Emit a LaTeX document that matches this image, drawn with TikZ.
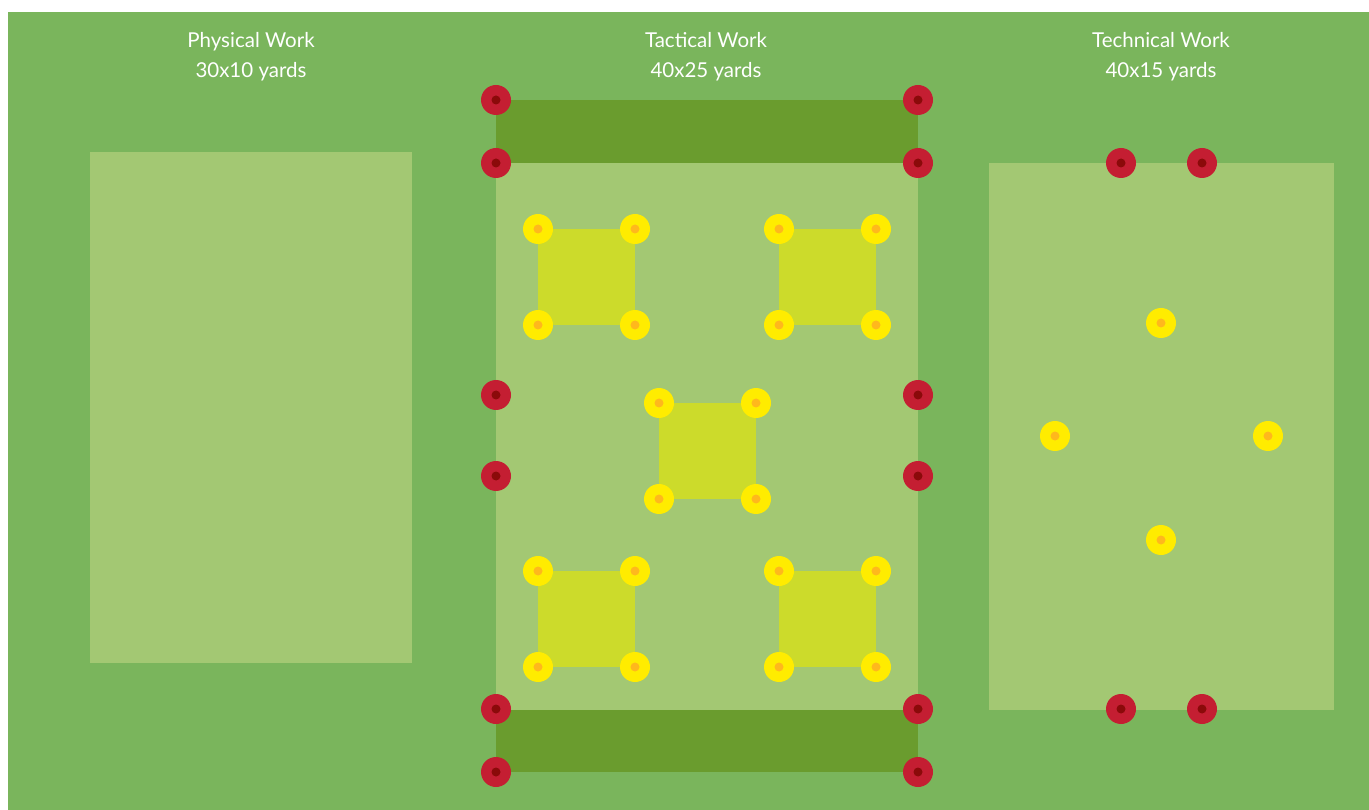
\documentclass[tikz,border=0pt]{standalone}
\usepackage{fontspec}
\setmainfont{Lato}
\definecolor{bg}{HTML}{7AB55C}
\definecolor{field}{HTML}{A3C873}
\definecolor{strip}{HTML}{6A9C2E}
\definecolor{sq}{HTML}{CCDB2B}
\definecolor{redc}{HTML}{C41E32}
\definecolor{redi}{HTML}{8B0A0A}
\definecolor{yelc}{HTML}{FFEC00}
\definecolor{yeli}{HTML}{FFB81C}
\begin{document}
\begin{tikzpicture}[x=1pt,y=-1pt,
  redcone/.style={circle,fill=redc,minimum size=30pt,inner sep=0pt,
    path picture={\fill[redi] (path picture bounding box.center) circle (4.5pt);}},
  yelcone/.style={circle,fill=yelc,minimum size=30pt,inner sep=0pt,
    path picture={\fill[yeli] (path picture bounding box.center) circle (4.5pt);}},
  title/.style={text=white,font=\fontsize{20.5}{30}\selectfont,align=center}]
\useasboundingbox (0,0) rectangle (1369,810);
\fill[bg] (8,12) rectangle (1369,810);
% physical
\fill[field] (90,152) rectangle (412,663);
% tactical
\fill[field] (496,163) rectangle (918,710);
\fill[strip] (496,100) rectangle (918,163);
\fill[strip] (496,710) rectangle (918,772);
% technical
\fill[field] (989,163) rectangle (1334,710);
% yellow squares
\foreach \x/\y in {538/229,779/229,659/403,538/571,779/571}{
  \fill[sq] (\x,\y) rectangle ++(97,96);
}
% titles
\node[title] (t1) at (251,57) {Physical Work\\30x10 yards};
\node[title] (t2) at (706,57) {Tactical Work\\40x25 yards};
\node[title] (t3) at (1161,57) {Technical Work\\40x15 yards};
% red cones
\foreach \y [count=\i] in {100,163,395,476,709,772}{
  \node[redcone] (rl\i) at (496,\y) {};
  \node[redcone] (rr\i) at (918,\y) {};
}
\node[redcone] (tr1) at (1121,163) {};
\node[redcone] (tr2) at (1202,163) {};
\node[redcone] (tr3) at (1121,709) {};
\node[redcone] (tr4) at (1202,709) {};
% yellow cones on squares
\foreach \x/\y [count=\i] in {538/229,779/229,659/403,538/571,779/571}{
  \node[yelcone] (ya\i) at (\x,\y) {};
  \node[yelcone] (yb\i) at (\x+97,\y) {};
  \node[yelcone] (yc\i) at (\x,\y+96) {};
  \node[yelcone] (yd\i) at (\x+97,\y+96) {};
}
% technical yellow cones
\node[yelcone] (ty1) at (1161,323) {};
\node[yelcone] (ty2) at (1055,436) {};
\node[yelcone] (ty3) at (1268,436) {};
\node[yelcone] (ty4) at (1161,540) {};
\end{tikzpicture}
\end{document}
